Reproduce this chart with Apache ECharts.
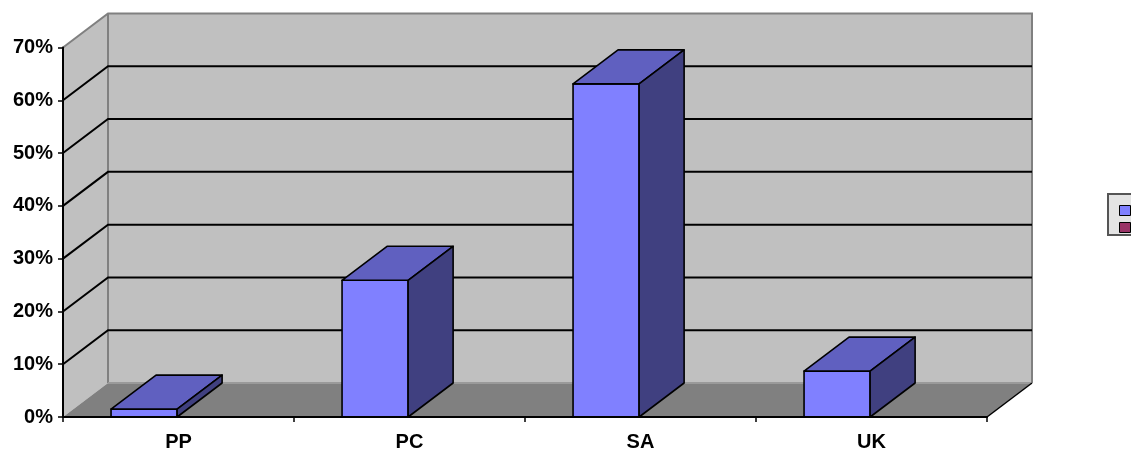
<!DOCTYPE html>
<html>
<head>
<meta charset="utf-8">
<script src="https://cdn.jsdelivr.net/npm/echarts@6/dist/echarts.min.js"></script>
<style>
  html, body { margin: 0; padding: 0; background: #ffffff; }
  #chart { width: 1131px; height: 452px; }
</style>
</head>
<body>
<div id="chart"></div>
<script>
// Category labels and series values (shares as fractions)
const categories = ['PP', 'PC', 'SA', 'UK'];
const series1Values = [0.015, 0.259, 0.631, 0.087];
const series2Values = [null, null, null, null];
const seriesNames = ['Series1', 'Series2'];

// Value-axis ticks
const yTickValues = [0, 0.1, 0.2, 0.3, 0.4, 0.5, 0.6, 0.7];

// Oblique depth offset of the 3D box (pixels)
const DX = 45;
const DY = -34;

const FONT = 'Liberation Sans, Arial, sans-serif';
const pct = v => Math.round(v * 100) + '%';

const chart = echarts.init(document.getElementById('chart'), null, { renderer: 'canvas' });

// Walls and floor of the 3D plot box
function renderWalls(params, api) {
  const cs = params.coordSys;
  const x0 = cs.x, x1 = cs.x + cs.width;
  const yT = cs.y, yB = cs.y + cs.height;
  const wall = '#C0C0C0', floor = '#808080', edge = '#808080';
  return {
    type: 'group',
    children: [
      { type: 'polygon', shape: { points: [[x0, yB], [x0, yT], [x0 + DX, yT + DY], [x0 + DX, yB + DY]] },
        style: { fill: wall } },
      { type: 'rect', shape: { x: x0 + DX, y: yT + DY, width: cs.width, height: cs.height },
        style: { fill: wall } },
      { type: 'polygon', shape: { points: [[x0, yB], [x1, yB], [x1 + DX, yB + DY], [x0 + DX, yB + DY]] },
        style: { fill: floor } },
      { type: 'polyline', shape: { points: [[x0, yT], [x0 + DX, yT + DY], [x1 + DX, yT + DY], [x1 + DX, yB + DY]] },
        style: { stroke: edge, lineWidth: 2, fill: null } },
      { type: 'line', shape: { x1: x0 + DX, y1: yT + DY, x2: x0 + DX, y2: yB + DY },
        style: { stroke: edge, lineWidth: 2 } },
      { type: 'line', shape: { x1: x0 + DX, y1: yB + DY, x2: x1 + DX, y2: yB + DY },
        style: { stroke: '#9A9A9A', lineWidth: 2 } },
      { type: 'line', shape: { x1: x1, y1: yB, x2: x1 + DX, y2: yB + DY },
        style: { stroke: '#000', lineWidth: 1.5 } }
    ]
  };
}

// Gridlines: diagonal across the side wall, then horizontal on the back wall
function renderGrid(params, api) {
  const v = api.value(1);
  if (v <= 0 || v >= yTickValues[yTickValues.length - 1]) return null;
  const cs = params.coordSys;
  const y = api.coord([0, v])[1];
  const x0 = cs.x, x1 = cs.x + cs.width;
  return {
    type: 'polyline',
    shape: { points: [[x0, y], [x0 + DX, y + DY], [x1 + DX, y + DY]] },
    style: { stroke: '#000', lineWidth: 2, fill: null }
  };
}

// 3D columns: front face, top face, side face
function renderBar(params, api) {
  const v = api.value(1);
  if (v == null || isNaN(v)) return null;
  const i = api.value(0);
  const top = api.coord([i, v]);
  const base = api.coord([i, 0]);
  const bw = api.size([1, 0])[0];
  const xr = top[0] - 0.006 * bw;
  const xl = xr - 0.286 * bw;
  const yt = top[1], yb = base[1];
  const s = { stroke: '#000', lineWidth: 1.6, lineJoin: 'round' };
  return {
    type: 'group',
    children: [
      { type: 'polygon', shape: { points: [[xl, yb], [xl, yt], [xr, yt], [xr, yb]] },
        style: Object.assign({ fill: '#8080FF' }, s) },
      { type: 'polygon', shape: { points: [[xl, yt], [xr, yt], [xr + DX, yt + DY], [xl + DX, yt + DY]] },
        style: Object.assign({ fill: '#6060C0' }, s) },
      { type: 'polygon', shape: { points: [[xr, yt], [xr + DX, yt + DY], [xr + DX, yb + DY], [xr, yb]] },
        style: Object.assign({ fill: '#404080' }, s) }
    ]
  };
}

const option = {
  animation: false,
  backgroundColor: '#ffffff',
  grid: { left: 63, right: 144, top: 47.5, bottom: 34.5, containLabel: false },
  legend: {
    data: seriesNames,
    orient: 'vertical',
    left: 1108,
    top: 194,
    icon: 'rect',
    itemWidth: 11,
    itemHeight: 10,
    itemGap: 6,
    padding: [11, 4, 2, 11],
    backgroundColor: '#E4E4E4',
    borderColor: '#555555',
    borderWidth: 2,
    itemStyle: { borderColor: '#000', borderWidth: 1 },
    textStyle: { fontFamily: FONT, fontSize: 10, lineHeight: 10, color: '#000' }
  },
  xAxis: {
    type: 'category',
    data: categories,
    z: 6,
    axisLine: { lineStyle: { color: '#000', width: 2 } },
    axisTick: { show: true, length: 5, lineStyle: { color: '#000', width: 1.5 } },
    axisLabel: { fontFamily: FONT, fontWeight: 'bold', fontSize: 20, color: '#000', margin: 15 },
    splitLine: { show: false }
  },
  yAxis: {
    type: 'value',
    min: yTickValues[0],
    max: yTickValues[yTickValues.length - 1],
    interval: yTickValues[1] - yTickValues[0],
    z: 6,
    axisLine: { show: true, lineStyle: { color: '#000', width: 2 } },
    axisTick: { show: true, length: 5, lineStyle: { color: '#000', width: 1.5 } },
    axisLabel: { fontFamily: FONT, fontWeight: 'bold', fontSize: 20, color: '#000', margin: 10, formatter: pct },
    splitLine: { show: false }
  },
  series: [
    {
      type: 'custom', name: 'walls', z: 1, silent: true, clip: false,
      renderItem: renderWalls, data: [[0, 0]]
    },
    {
      type: 'custom', name: 'grid', z: 2, silent: true, clip: false,
      renderItem: renderGrid, data: yTickValues.map(v => [0, v])
    },
    {
      type: 'custom', name: seriesNames[0], z: 3, clip: false,
      itemStyle: { color: '#8080FF' },
      renderItem: renderBar,
      data: series1Values.map((v, i) => [i, v])
    },
    {
      type: 'custom', name: seriesNames[1], z: 3, clip: false,
      itemStyle: { color: '#993366' },
      renderItem: renderBar,
      data: series2Values.map((v, i) => [i, v])
    }
  ]
};

chart.setOption(option);
</script>
</body>
</html>
